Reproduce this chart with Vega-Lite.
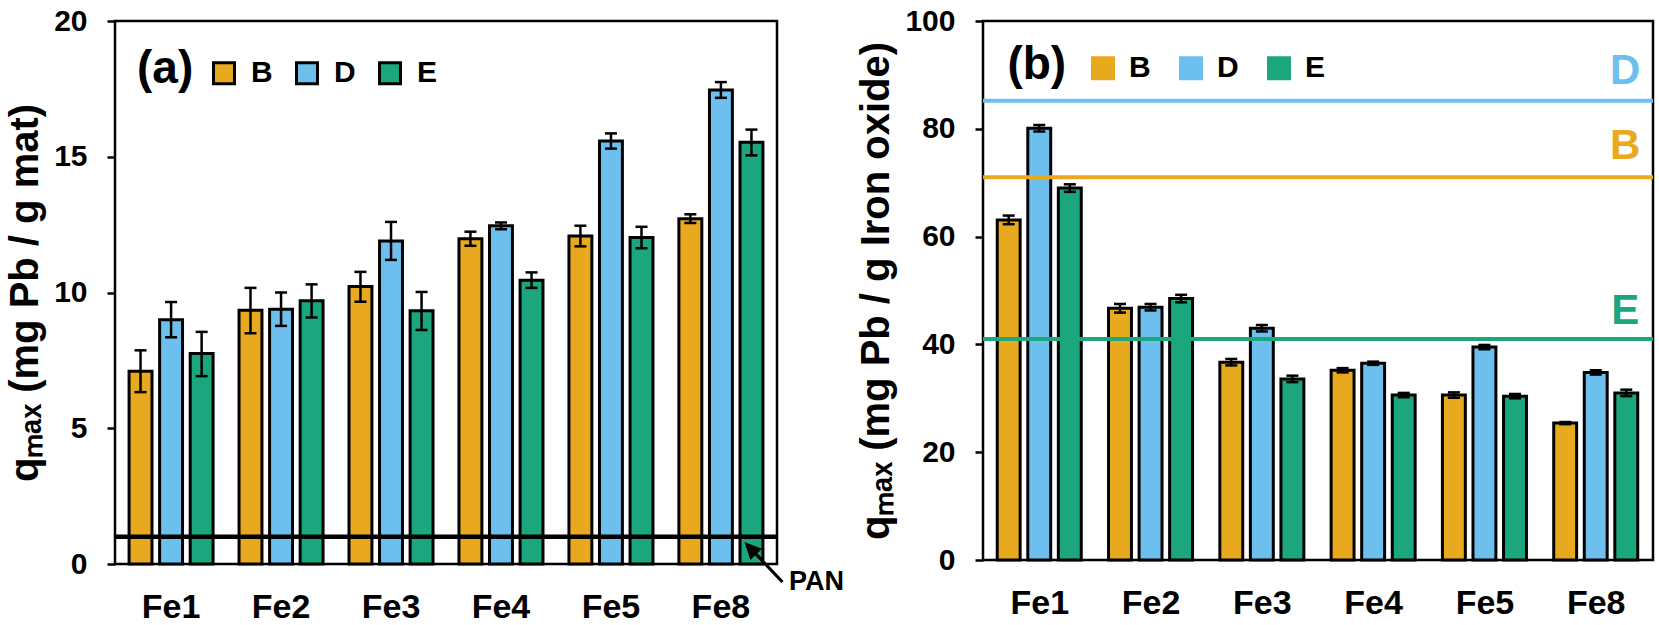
{
  "$schema": "https://vega.github.io/schema/vega-lite/v6.json",
  "padding": {"left": 4, "top": 4, "right": 5, "bottom": 2},
  "bounds": "flush",
  "spacing": 206,
  "config": {
    "font": "Liberation Sans",
    "view": {"stroke": "black", "strokeWidth": 2.5},
    "axis": {
      "labelFont": "Liberation Sans",
      "labelFontWeight": "bold",
      "labelColor": "black",
      "titleFont": "Liberation Sans",
      "titleFontWeight": "bold",
      "titleColor": "black",
      "grid": false,
      "domain": false
    },
    "axisX": {"labelFontSize": 34, "labelPadding": 26, "ticks": false, "labelAngle": 0, "title": null},
    "axisY": {"labelFontSize": 30, "labelPadding": 20, "tickSize": 8, "tickWidth": 2.5, "tickColor": "black", "titleFontSize": 40, "titlePadding": 8},
    "legend": {
      "orient": "none",
      "direction": "horizontal",
      "title": null,
      "symbolType": "square",
      "symbolSize": 440,
      "symbolStrokeColor": "black",
      "symbolStrokeWidth": 3,
      "symbolOpacity": 1,
      "labelFont": "Liberation Sans",
      "labelFontSize": 30,
      "labelFontWeight": "bold",
      "labelColor": "black",
      "padding": 0
    }
  },
  "datasets": {
    "a": [
      {"fe": "Fe1", "s": "B", "q": 7.1, "lo": 6.33, "hi": 7.87},
      {"fe": "Fe1", "s": "D", "q": 9.0, "lo": 8.35, "hi": 9.65},
      {"fe": "Fe1", "s": "E", "q": 7.75, "lo": 6.92, "hi": 8.55},
      {"fe": "Fe2", "s": "B", "q": 9.35, "lo": 8.5, "hi": 10.17},
      {"fe": "Fe2", "s": "D", "q": 9.38, "lo": 8.77, "hi": 10.0},
      {"fe": "Fe2", "s": "E", "q": 9.7, "lo": 9.08, "hi": 10.3},
      {"fe": "Fe3", "s": "B", "q": 10.22, "lo": 9.66, "hi": 10.76},
      {"fe": "Fe3", "s": "D", "q": 11.9, "lo": 11.2, "hi": 12.6},
      {"fe": "Fe3", "s": "E", "q": 9.33, "lo": 8.62, "hi": 10.02},
      {"fe": "Fe4", "s": "B", "q": 11.98, "lo": 11.72, "hi": 12.24},
      {"fe": "Fe4", "s": "D", "q": 12.46, "lo": 12.33, "hi": 12.58},
      {"fe": "Fe4", "s": "E", "q": 10.45, "lo": 10.17, "hi": 10.74},
      {"fe": "Fe5", "s": "B", "q": 12.08, "lo": 11.7, "hi": 12.46},
      {"fe": "Fe5", "s": "D", "q": 15.58, "lo": 15.3, "hi": 15.86},
      {"fe": "Fe5", "s": "E", "q": 12.03, "lo": 11.63, "hi": 12.42},
      {"fe": "Fe8", "s": "B", "q": 12.72, "lo": 12.56, "hi": 12.88},
      {"fe": "Fe8", "s": "D", "q": 17.46, "lo": 17.17, "hi": 17.75},
      {"fe": "Fe8", "s": "E", "q": 15.53, "lo": 15.05, "hi": 16.0}
    ],
    "b": [
      {"fe": "Fe1", "s": "B", "q": 63.1, "lo": 62.3, "hi": 63.9},
      {"fe": "Fe1", "s": "D", "q": 80.1, "lo": 79.5, "hi": 80.7},
      {"fe": "Fe1", "s": "E", "q": 69.0, "lo": 68.3, "hi": 69.7},
      {"fe": "Fe2", "s": "B", "q": 46.7, "lo": 45.9, "hi": 47.5},
      {"fe": "Fe2", "s": "D", "q": 46.9, "lo": 46.3, "hi": 47.5},
      {"fe": "Fe2", "s": "E", "q": 48.5, "lo": 47.8, "hi": 49.2},
      {"fe": "Fe3", "s": "B", "q": 36.7, "lo": 36.1, "hi": 37.3},
      {"fe": "Fe3", "s": "D", "q": 43.0, "lo": 42.4, "hi": 43.6},
      {"fe": "Fe3", "s": "E", "q": 33.6, "lo": 33.0, "hi": 34.2},
      {"fe": "Fe4", "s": "B", "q": 35.2, "lo": 34.8, "hi": 35.6},
      {"fe": "Fe4", "s": "D", "q": 36.5, "lo": 36.2, "hi": 36.8},
      {"fe": "Fe4", "s": "E", "q": 30.6, "lo": 30.2, "hi": 31.0},
      {"fe": "Fe5", "s": "B", "q": 30.6, "lo": 30.1, "hi": 31.1},
      {"fe": "Fe5", "s": "D", "q": 39.5, "lo": 39.1, "hi": 39.9},
      {"fe": "Fe5", "s": "E", "q": 30.4, "lo": 30.0, "hi": 30.8},
      {"fe": "Fe8", "s": "B", "q": 25.4, "lo": 25.2, "hi": 25.6},
      {"fe": "Fe8", "s": "D", "q": 34.8, "lo": 34.4, "hi": 35.2},
      {"fe": "Fe8", "s": "E", "q": 31.0, "lo": 30.4, "hi": 31.6}
    ],
    "refs": [
      {"fe": "Fe8", "s": "D", "v": 85.2, "lv": 90.7},
      {"fe": "Fe8", "s": "B", "v": 71.0, "lv": 76.8},
      {"fe": "Fe8", "s": "E", "v": 41.0, "lv": 46.2}
    ]
  },
  "resolve": {"legend": {"color": "independent"}},
  "hconcat": [
    {
      "width": 662,
      "height": 543,
      "layer": [
        {
          "data": {"name": "a"},
          "mark": {"type": "bar", "stroke": "black", "strokeWidth": 3},
          "encoding": {
            "x": {"field": "fe", "type": "nominal", "scale": {"domain": ["Fe1", "Fe2", "Fe3", "Fe4", "Fe5", "Fe8"], "paddingInner": 0.236, "paddingOuter": 0.128}},
            "xOffset": {"field": "s", "type": "nominal", "scale": {"domain": ["B", "D", "E"], "paddingInner": 0.25, "paddingOuter": 0}},
            "y": {"field": "q", "type": "quantitative", "scale": {"domain": [0, 20]}, "axis": {"values": [0, 5, 10, 15, 20], "title": "qₘₐₓ (mg Pb / g mat)"}},
            "color": {
              "field": "s", "type": "nominal",
              "scale": {"domain": ["B", "D", "E"], "range": ["#E9A91F", "#6DC0EE", "#1CA67D"]},
              "legend": {
                "legendX": 94, "legendY": 37, "labelOffset": 12, "columnPadding": 17,
                "encode": {
                  "symbols": {"update": {"stroke": {"value": "black"}, "strokeWidth": {"value": 3}, "opacity": {"value": 1}}}
                }
              }
            }
          }
        },
        {
          "data": {"name": "a"},
          "mark": {"type": "rule", "color": "black", "strokeWidth": 2.5},
          "encoding": {
            "x": {"field": "fe", "type": "nominal"},
            "xOffset": {"field": "s", "type": "nominal"},
            "y": {"field": "lo", "type": "quantitative"},
            "y2": {"field": "hi"}
          }
        },
        {
          "data": {"name": "a"},
          "mark": {"type": "tick", "color": "black", "thickness": 2.5, "size": 12, "opacity": 1},
          "encoding": {
            "x": {"field": "fe", "type": "nominal"},
            "xOffset": {"field": "s", "type": "nominal"},
            "y": {"field": "lo", "type": "quantitative"}
          }
        },
        {
          "data": {"name": "a"},
          "mark": {"type": "tick", "color": "black", "thickness": 2.5, "size": 12, "opacity": 1},
          "encoding": {
            "x": {"field": "fe", "type": "nominal"},
            "xOffset": {"field": "s", "type": "nominal"},
            "y": {"field": "hi", "type": "quantitative"}
          }
        },
        {
          "data": {"values": [{"v": 1.0}]},
          "mark": {"type": "rule", "color": "black", "strokeWidth": 4.5},
          "encoding": {"y": {"field": "v", "type": "quantitative"}}
        },
        {
          "data": {"values": [{"fe": "Fe1", "v": 18.23, "t": "(a)"}]},
          "mark": {"type": "text", "fontSize": 46, "fontWeight": "bold", "color": "black", "baseline": "middle", "dx": -6},
          "encoding": {
            "x": {"field": "fe", "type": "nominal"},
            "y": {"field": "v", "type": "quantitative"},
            "text": {"field": "t"}
          }
        },
        {
          "data": {"values": [{"fe": "Fe8", "v": -0.66, "t": "PAN"}]},
          "mark": {"type": "text", "fontSize": 27, "fontWeight": "bold", "color": "black", "align": "left", "baseline": "middle", "dx": 68},
          "encoding": {
            "x": {"field": "fe", "type": "nominal"},
            "y": {"field": "v", "type": "quantitative"},
            "text": {"field": "t"}
          }
        },
        {
          "data": {"values": [{"fe": "Fe8", "s": "E", "v": 0.81}]},
          "mark": {"type": "point", "filled": true, "color": "black", "opacity": 1, "size": 3136,
                   "shape": "M-0.25,0L0.377,0.243L0.21,0.402L1.148,1.39L1.066,1.468L0.128,0.48L-0.039,0.639Z"},
          "encoding": {
            "x": {"field": "fe", "type": "nominal"},
            "xOffset": {"field": "s", "type": "nominal"},
            "y": {"field": "v", "type": "quantitative"}
          }
        }
      ]
    },
    {
      "width": 670,
      "height": 539,
      "layer": [
        {
          "data": {"name": "b"},
          "mark": {"type": "bar", "stroke": "black", "strokeWidth": 3},
          "encoding": {
            "x": {"field": "fe", "type": "nominal", "scale": {"domain": ["Fe1", "Fe2", "Fe3", "Fe4", "Fe5", "Fe8"], "paddingInner": 0.236, "paddingOuter": 0.128}},
            "xOffset": {"field": "s", "type": "nominal", "scale": {"domain": ["B", "D", "E"], "paddingInner": 0.25, "paddingOuter": 0}},
            "y": {"field": "q", "type": "quantitative", "scale": {"domain": [0, 100]}, "axis": {"values": [0, 20, 40, 60, 80, 100], "title": "qₘₐₓ (mg Pb / g Iron oxide)"}},
            "color": {
              "field": "s", "type": "nominal",
              "scale": {"domain": ["B", "D", "E"], "range": ["#E9A91F", "#6DC0EE", "#1CA67D"]},
              "legend": {
                "legendX": 105, "legendY": 32, "labelOffset": 11, "columnPadding": 23,
                "encode": {
                  "symbols": {"update": {"stroke": {"value": "black"}, "strokeWidth": {"value": 3}, "opacity": {"value": 1}}}
                }
              }
            }
          }
        },
        {
          "data": {"name": "b"},
          "mark": {"type": "rule", "color": "black", "strokeWidth": 2.5},
          "encoding": {
            "x": {"field": "fe", "type": "nominal"},
            "xOffset": {"field": "s", "type": "nominal"},
            "y": {"field": "lo", "type": "quantitative"},
            "y2": {"field": "hi"}
          }
        },
        {
          "data": {"name": "b"},
          "mark": {"type": "tick", "color": "black", "thickness": 2.5, "size": 12, "opacity": 1},
          "encoding": {
            "x": {"field": "fe", "type": "nominal"},
            "xOffset": {"field": "s", "type": "nominal"},
            "y": {"field": "lo", "type": "quantitative"}
          }
        },
        {
          "data": {"name": "b"},
          "mark": {"type": "tick", "color": "black", "thickness": 2.5, "size": 12, "opacity": 1},
          "encoding": {
            "x": {"field": "fe", "type": "nominal"},
            "xOffset": {"field": "s", "type": "nominal"},
            "y": {"field": "hi", "type": "quantitative"}
          }
        },
        {
          "data": {"name": "refs"},
          "mark": {"type": "rule", "strokeWidth": 4},
          "encoding": {
            "y": {"field": "v", "type": "quantitative"},
            "color": {"field": "s", "type": "nominal"}
          }
        },
        {
          "data": {"name": "refs"},
          "mark": {"type": "text", "fontSize": 42, "fontWeight": "bold", "baseline": "middle", "dx": 29},
          "encoding": {
            "x": {"field": "fe", "type": "nominal"},
            "y": {"field": "lv", "type": "quantitative"},
            "text": {"field": "s"},
            "color": {"field": "s", "type": "nominal"}
          }
        },
        {
          "data": {"values": [{"fe": "Fe1", "v": 91.8, "t": "(b)"}]},
          "mark": {"type": "text", "fontSize": 46, "fontWeight": "bold", "color": "black", "baseline": "middle", "dx": -3},
          "encoding": {
            "x": {"field": "fe", "type": "nominal"},
            "y": {"field": "v", "type": "quantitative"},
            "text": {"field": "t"}
          }
        }
      ]
    }
  ]
}
